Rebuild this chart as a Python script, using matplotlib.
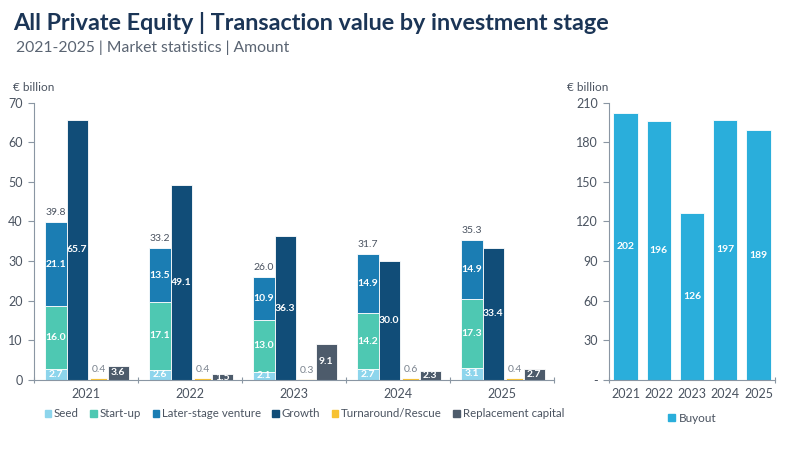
import numpy as np
import matplotlib
matplotlib.use("Agg")
import matplotlib.pyplot as plt
from matplotlib.patches import Patch

plt.rcParams['font.family'] = ['Lato', 'DejaVu Sans']

# data
years = ['2021', '2022', '2023', '2024', '2025']
seed = [2.7, 2.6, 2.1, 2.7, 3.1]
startup = [16.0, 17.1, 13.0, 14.2, 17.3]
later_stage = [21.1, 13.5, 10.9, 14.9, 14.9]
venture_total = [39.8, 33.2, 26.0, 31.7, 35.3]
growth = [65.7, 49.1, 36.3, 30.0, 33.4]
turnaround = [0.4, 0.4, 0.3, 0.6, 0.4]
replacement = [3.6, 1.5, 9.1, 2.3, 2.7]
buyout = [202, 196, 126, 197, 189]

c_seed = '#8dd5ec'
c_start = '#4ec8b2'
c_later = '#1b7db3'
c_growth = '#114d78'
c_turn = '#f7c232'
c_repl = '#4d5b6b'
c_buy = '#2aaedb'
c_axis = '#8a96a3'
c_text = '#4a5360'

fig = plt.figure(figsize=(8, 4.5), dpi=100)

fig.text(0.017, 0.948, 'All Private Equity | Transaction value by investment stage',
         fontsize=16.8, fontweight='bold', color='#1b3556', va='center')
fig.text(0.02, 0.893, '2021-2025 | Market statistics | Amount',
         fontsize=11.3, color='#5a6472', va='center')

# ---- left chart: stages other than buyout
ax = fig.add_axes([0.0425, 0.1556, 0.65, 0.6166])
x = np.arange(len(years)) + 0.5
w = 0.205
kw = dict(edgecolor='white', linewidth=0.6)

xs = x - 0.29
ax.bar(xs, seed, w, color=c_seed, **kw)
ax.bar(xs, startup, w, bottom=seed, color=c_start, **kw)
bot2 = np.array(seed) + np.array(startup)
ax.bar(xs, later_stage, w, bottom=bot2, color=c_later, **kw)
xg = x - 0.085
ax.bar(xg, growth, w, color=c_growth, **kw)
xt = x + 0.12
ax.bar(xt, turnaround, 0.17, color=c_turn, **kw)
xr = x + 0.31
ax.bar(xr, replacement, w, color=c_repl, **kw)

lab = dict(ha='center', va='center', fontsize=7.5, fontweight='bold', color='white')
for i in range(len(years)):
    ax.text(xs[i], seed[i] / 2, f'{seed[i]:.1f}', **lab)
    ax.text(xs[i], seed[i] + startup[i] / 2, f'{startup[i]:.1f}', **lab)
    ax.text(xs[i], bot2[i] + later_stage[i] / 2, f'{later_stage[i]:.1f}', **lab)
    ax.text(xs[i], venture_total[i] + 1.3, f'{venture_total[i]:.1f}', ha='center',
            va='bottom', fontsize=7.5, color=c_text)
    ax.text(xg[i], growth[i] / 2, f'{growth[i]:.1f}', **lab)
    ax.text(xt[i], turnaround[i] + 1.0, f'{turnaround[i]:.1f}', ha='center',
            va='bottom', fontsize=7.5, color='#7a838e')
    ax.text(xr[i], replacement[i] / 2, f'{replacement[i]:.1f}', **lab)

ax.set_xlim(0, len(years))
ax.set_ylim(0, 70)
ax.set_yticks(range(0, 71, 10))
ax.set_xticks(np.arange(len(years) + 1))
ax.set_xticklabels([])
ax.set_xticks(x, minor=True)
ax.set_xticklabels(years, minor=True)
ax.tick_params(axis='x', which='minor', length=0, pad=6, labelsize=9, labelcolor=c_text)
ax.tick_params(axis='x', which='major', length=4, color=c_axis, direction='inout')
ax.tick_params(axis='y', length=4, color=c_axis, labelsize=9, labelcolor=c_text, pad=4)
for s in ['top', 'right']:
    ax.spines[s].set_visible(False)
for s in ['left', 'bottom']:
    ax.spines[s].set_color(c_axis)
ax.text(-0.04, 1.035, '€ billion', transform=ax.transAxes, fontsize=8.5,
        color=c_text, ha='left', va='bottom')

handles = [Patch(color=c) for c in [c_seed, c_start, c_later, c_growth, c_turn, c_repl]]
names = ['Seed', 'Start-up', 'Later-stage venture', 'Growth', 'Turnaround/Rescue',
         'Replacement capital']
ax.legend(handles, names, loc='upper center', bbox_to_anchor=(0.52, -0.065), ncol=6,
          frameon=False, fontsize=8.3, handlelength=0.55, handleheight=0.55,
          handletextpad=0.25, columnspacing=1.0, labelcolor=c_text)

# ---- right chart: buyout
ax2 = fig.add_axes([0.761, 0.1556, 0.208, 0.6166])
xb = np.arange(len(years)) + 0.5
ax2.bar(xb, buyout, 0.73, color=c_buy, edgecolor='white', linewidth=0.6)
for i in range(len(years)):
    ax2.text(xb[i], buyout[i] / 2, f'{buyout[i]}', ha='center', va='center',
             fontsize=7.5, fontweight='bold', color='white')
ax2.set_xlim(0, len(years))
ax2.set_ylim(0, 210)
ax2.set_yticks(range(0, 211, 30))
ax2.set_yticklabels(['-'] + [str(v) for v in range(30, 211, 30)])
ax2.set_xticks([0, len(years)])
ax2.set_xticklabels([])
ax2.set_xticks(xb, minor=True)
ax2.set_xticklabels(years, minor=True)
ax2.tick_params(axis='x', which='minor', length=0, pad=6, labelsize=9, labelcolor=c_text)
ax2.tick_params(axis='x', which='major', length=4, color=c_axis, direction='inout')
ax2.tick_params(axis='y', length=4, color=c_axis, labelsize=9, labelcolor=c_text, pad=4)
for s in ['top', 'right']:
    ax2.spines[s].set_visible(False)
for s in ['left', 'bottom']:
    ax2.spines[s].set_color(c_axis)
ax2.text(-0.25, 1.035, '€ billion', transform=ax2.transAxes, fontsize=8.5,
         color=c_text, ha='left', va='bottom')
ax2.legend([Patch(color=c_buy)], ['Buyout'], loc='upper center',
           bbox_to_anchor=(0.5, -0.08), frameon=False, fontsize=8.5,
           handlelength=0.6, handleheight=0.6, handletextpad=0.3, labelcolor=c_text)

fig.savefig('out.png', dpi=100)
